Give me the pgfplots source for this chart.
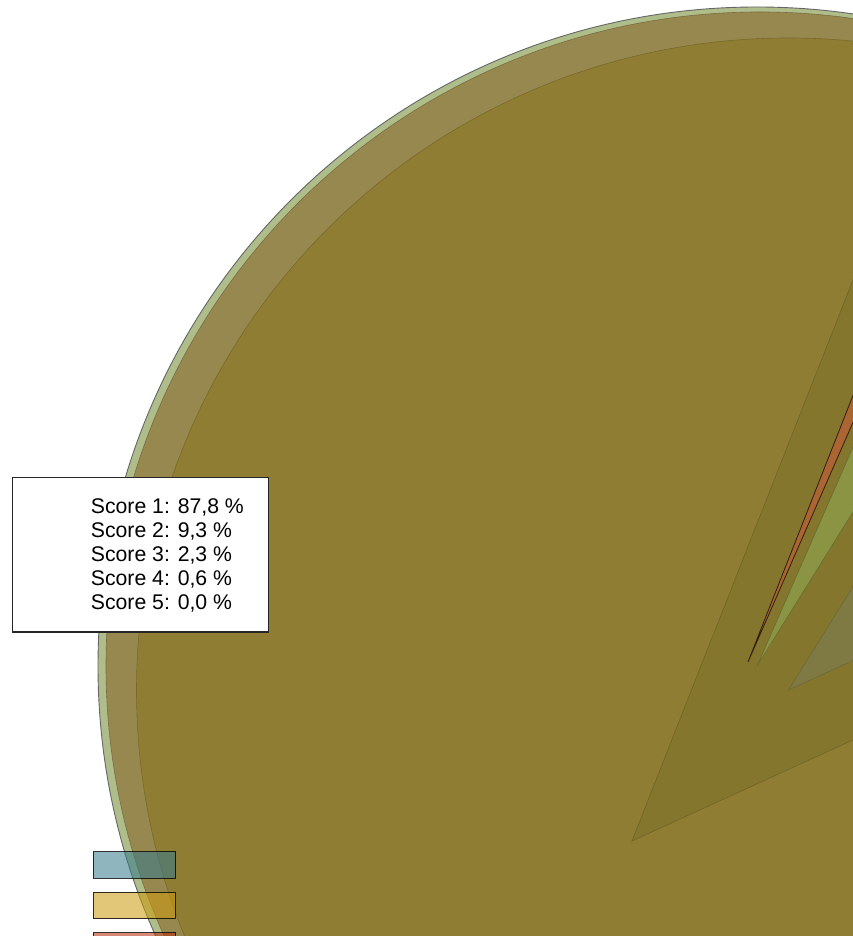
\documentclass[border=0pt]{standalone}
\usepackage{pgfplots}
\pgfplotsset{compat=1.18}
\usepackage{fontspec}
\setmainfont{Liberation Sans}
\definecolor{greenring}{RGB}{174,189,138}
\definecolor{lightolive}{RGB}{151,136,80}
\definecolor{oliveA}{RGB}{142,125,50}
\definecolor{wedgeA}{RGB}{133,118,46}
\definecolor{graywedge}{RGB}{127,122,68}
\definecolor{greensliver}{RGB}{139,148,66}
\definecolor{orangesliver}{RGB}{170,101,50}
\definecolor{legblue}{RGB}{55,123,141}
\definecolor{leggold}{RGB}{205,155,16}
\definecolor{legred}{RGB}{184,45,10}
\begin{document}
\begin{tikzpicture}
% shares of the five scores (percent)
\def\pA{87.8}\def\pB{9.3}\def\pC{2.3}\def\pD{0.6}\def\pE{0.0}
\pgfmathsetmacro{\sA}{68.5}
\pgfmathsetmacro{\eA}{\sA+3.6*\pA}
\pgfmathsetmacro{\eB}{\eA+3.6*\pB}
\pgfmathsetmacro{\eC}{\eB+3.6*\pC}
\pgfmathsetmacro{\eD}{\eC+3.6*\pD}
\begin{axis}[width=853bp,height=936bp,scale only axis,
  xmin=0,xmax=853,ymin=0,ymax=936,hide axis,clip=true]
% outer (green) pie
\filldraw[fill=greenring,draw=black!60,line width=0.9bp]
  (axis cs:757,270) circle[radius=659bp];
% light olive pie
\filldraw[fill=lightolive,draw=lightolive!80!black,line width=0.6bp]
  (axis cs:760,270) circle[radius=654bp];
% main olive pie
\filldraw[fill=oliveA,draw=oliveA!85!black,line width=0.6bp]
  (axis cs:788.5,246) circle[radius=652bp];
% darker wedge: scores 2-4 of the offset pie
\filldraw[fill=wedgeA,draw=wedgeA!85!black,line width=0.6bp]
  (axis cs:632,95) -- ++(\eA:1200bp) arc[start angle=\eA,end angle=\eD,radius=1200bp] -- cycle;
% score 2 slice
\filldraw[fill=graywedge,draw=graywedge!85!black,line width=0.6bp]
  (axis cs:788.5,246) -- ++(\eA:652bp) arc[start angle=\eA,end angle=\eB,radius=652bp] -- cycle;
% score 3 slice
\filldraw[fill=greensliver,draw=greensliver!75!black,line width=0.7bp]
  (axis cs:757,270) -- ++(\eB:659bp) arc[start angle=\eB,end angle=\eC,radius=659bp] -- cycle;
% score 4 slice
\filldraw[fill=orangesliver,draw=black!70!orangesliver,line width=0.8bp]
  (axis cs:748,274) -- ++(\eC:650bp) arc[start angle=\eC,end angle=\eD,radius=650bp] -- cycle;
% legend swatches
\filldraw[fill=legblue,fill opacity=0.56,draw=black,draw opacity=0.8,line width=1bp]
  (axis cs:93,57.7) rectangle (axis cs:175.7,84.3);
\filldraw[fill=leggold,fill opacity=0.56,draw=black,draw opacity=0.8,line width=1bp]
  (axis cs:93,17) rectangle (axis cs:175.7,43.7);
\filldraw[fill=legred,fill opacity=0.56,draw=black,draw opacity=0.8,line width=1bp]
  (axis cs:93,-23.5) rectangle (axis cs:175.7,3);
% tooltip box
\filldraw[fill=white,draw=black!85,line width=1.2bp]
  (axis cs:12.3,304) rectangle (axis cs:268.7,458.7);
\begin{scope}[every node/.style={anchor=base west,inner sep=0pt,font=\fontsize{21.3}{24}\selectfont}]
\node at (axis cs:90.7,422.7) {Score 1: 87,8 \%};
\node at (axis cs:90.7,398.7) {Score 2: 9,3 \%};
\node at (axis cs:90.7,374.7) {Score 3: 2,3 \%};
\node at (axis cs:90.7,350.7) {Score 4: 0,6 \%};
\node at (axis cs:90.7,326.7) {Score 5: 0,0 \%};
\end{scope}
\end{axis}
\pgfresetboundingbox
\path[use as bounding box] (current axis.south west) rectangle (current axis.north east);
\end{tikzpicture}
\end{document}
